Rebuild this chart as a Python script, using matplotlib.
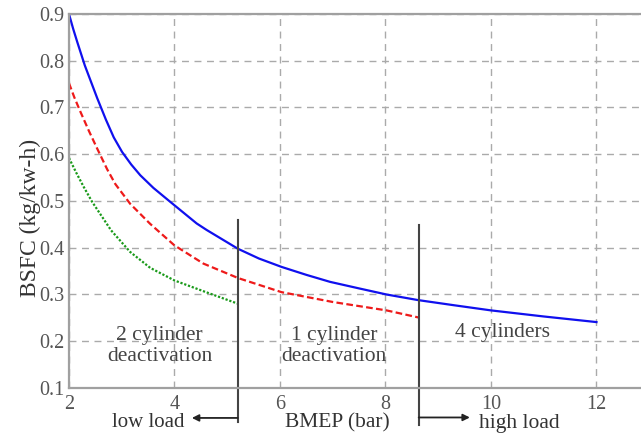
import numpy as np
import matplotlib
matplotlib.use("Agg")
import matplotlib.pyplot as plt

# BSFC curves (BMEP in bar, BSFC in kg/kw-h)
bmep_4cyl = [2.0, 2.08, 2.157, 2.3, 2.535, 2.7, 2.849, 3.006, 3.18, 3.352, 3.6, 3.9, 4.42, 4.61, 5.2,
             5.6, 6.03, 6.5, 6.95, 7.5, 8.02, 8.62, 9.3, 10.0, 11.0, 12.0]
bsfc_4cyl = [0.90, 0.868, 0.840, 0.790, 0.720, 0.674, 0.636, 0.605, 0.578, 0.555, 0.528, 0.500, 0.452,
             0.438, 0.398, 0.377, 0.359, 0.342, 0.327, 0.313, 0.300, 0.288, 0.277, 0.266, 0.253, 0.241]

bmep_1deact = [2.0, 2.1, 2.22, 2.377, 2.535, 2.723, 2.88, 3.16, 3.54, 4.0, 4.55, 5.21, 6.03, 7.0, 8.02, 8.62]
bsfc_1deact = [0.752, 0.722, 0.690, 0.650, 0.612, 0.568, 0.536, 0.494, 0.451, 0.405, 0.366, 0.335,
               0.305, 0.284, 0.266, 0.251]

bmep_2deact = [2.0, 2.14, 2.28, 2.44, 2.8, 3.16, 3.54, 4.0, 4.55, 5.21]
bsfc_2deact = [0.592, 0.560, 0.530, 0.498, 0.437, 0.391, 0.357, 0.330, 0.307, 0.280]

# mode switch points and labels
boundaries = [5.2, 8.63]
region_labels = ["2 cylinder\ndeactivation", "1 cylinder\ndeactivation", "4 cylinders"]
xticks = [2, 4, 6, 8, 10, 12]
yticks = [0.1, 0.2, 0.3, 0.4, 0.5, 0.6, 0.7, 0.8, 0.9]

plt.rcParams['font.family'] = ['Liberation Serif', 'DejaVu Serif']

fig = plt.figure(figsize=(6.41, 4.37), dpi=100)
# axes run past the right edge, like the cropped original
ax = fig.add_axes([0.1076, 0.1121, 0.9875, 0.856])

grey = '#555555'
ax.plot(bmep_4cyl, bsfc_4cyl, color='#1010ee', lw=1.6, ls='-')
ax.plot(bmep_1deact, bsfc_1deact, color='#ee1a1a', lw=1.6, ls=(0, (3, 1.5)))
ax.plot(bmep_2deact, bsfc_2deact, color='#1a9a1a', lw=1.6, ls=(0, (1, 0.8)))

ax.set_xlim(2, 14)
ax.set_ylim(0.1, 0.9)
ax.set_xticks(xticks + [14])
ax.set_xticklabels([str(t) for t in xticks] + [''])
ax.set_yticks(yticks)
ax.set_yticklabels(['%.1f' % t for t in yticks])
ax.tick_params(length=0, labelsize=14.5, colors=grey)
ax.tick_params(axis='x', pad=5)
ax.tick_params(axis='y', pad=3)

ax.grid(True, color='#aaaaaa', ls=(0, (5, 4)), lw=1.0)
for side in ['left', 'top', 'bottom']:
    ax.spines[side].set_color('#a0a0a0')
    ax.spines[side].set_linewidth(1.6)
ax.spines['right'].set_visible(False)

ax.set_ylabel('BSFC (kg/kw-h)', fontsize=17, color='#333333')
ax.yaxis.set_label_coords(-0.044, 0.455)

# vertical switch lines, poking out under the axes
ax.plot([boundaries[0]] * 2, [0.027, 0.459], color='#444444', lw=1.5, clip_on=False)
ax.plot([boundaries[1]] * 2, [0.021, 0.448], color='#444444', lw=1.5, clip_on=False)

txt = '#444444'
ax.text(3.72, 0.190, region_labels[0], ha='center', va='center', fontsize=15.5, color=txt, linespacing=1.2)
ax.text(7.02, 0.190, region_labels[1], ha='center', va='center', fontsize=15.5, color=txt, linespacing=1.2)
ax.text(10.21, 0.219, region_labels[2], ha='center', va='center', fontsize=15.5, color=txt)

# load arrows below the axis
ax.annotate('', xy=(4.33, 0.036), xytext=(boundaries[0], 0.036), annotation_clip=False,
            arrowprops=dict(arrowstyle='-|>', color='#222222', lw=1.3, mutation_scale=10, shrinkA=0, shrinkB=0))
ax.annotate('', xy=(9.6, 0.037), xytext=(boundaries[1], 0.037), annotation_clip=False,
            arrowprops=dict(arrowstyle='-|>', color='#222222', lw=1.3, mutation_scale=10, shrinkA=0, shrinkB=0))
ax.text(3.51, 0.026, 'low load', ha='center', va='center', fontsize=15, color='#333333', clip_on=False)
ax.text(7.08, 0.026, 'BMEP (bar)', ha='center', va='center', fontsize=15.5, color='#333333', clip_on=False)
ax.text(10.53, 0.024, 'high load', ha='center', va='center', fontsize=15.5, color='#333333', clip_on=False)

fig.savefig('out.png', dpi=100)
